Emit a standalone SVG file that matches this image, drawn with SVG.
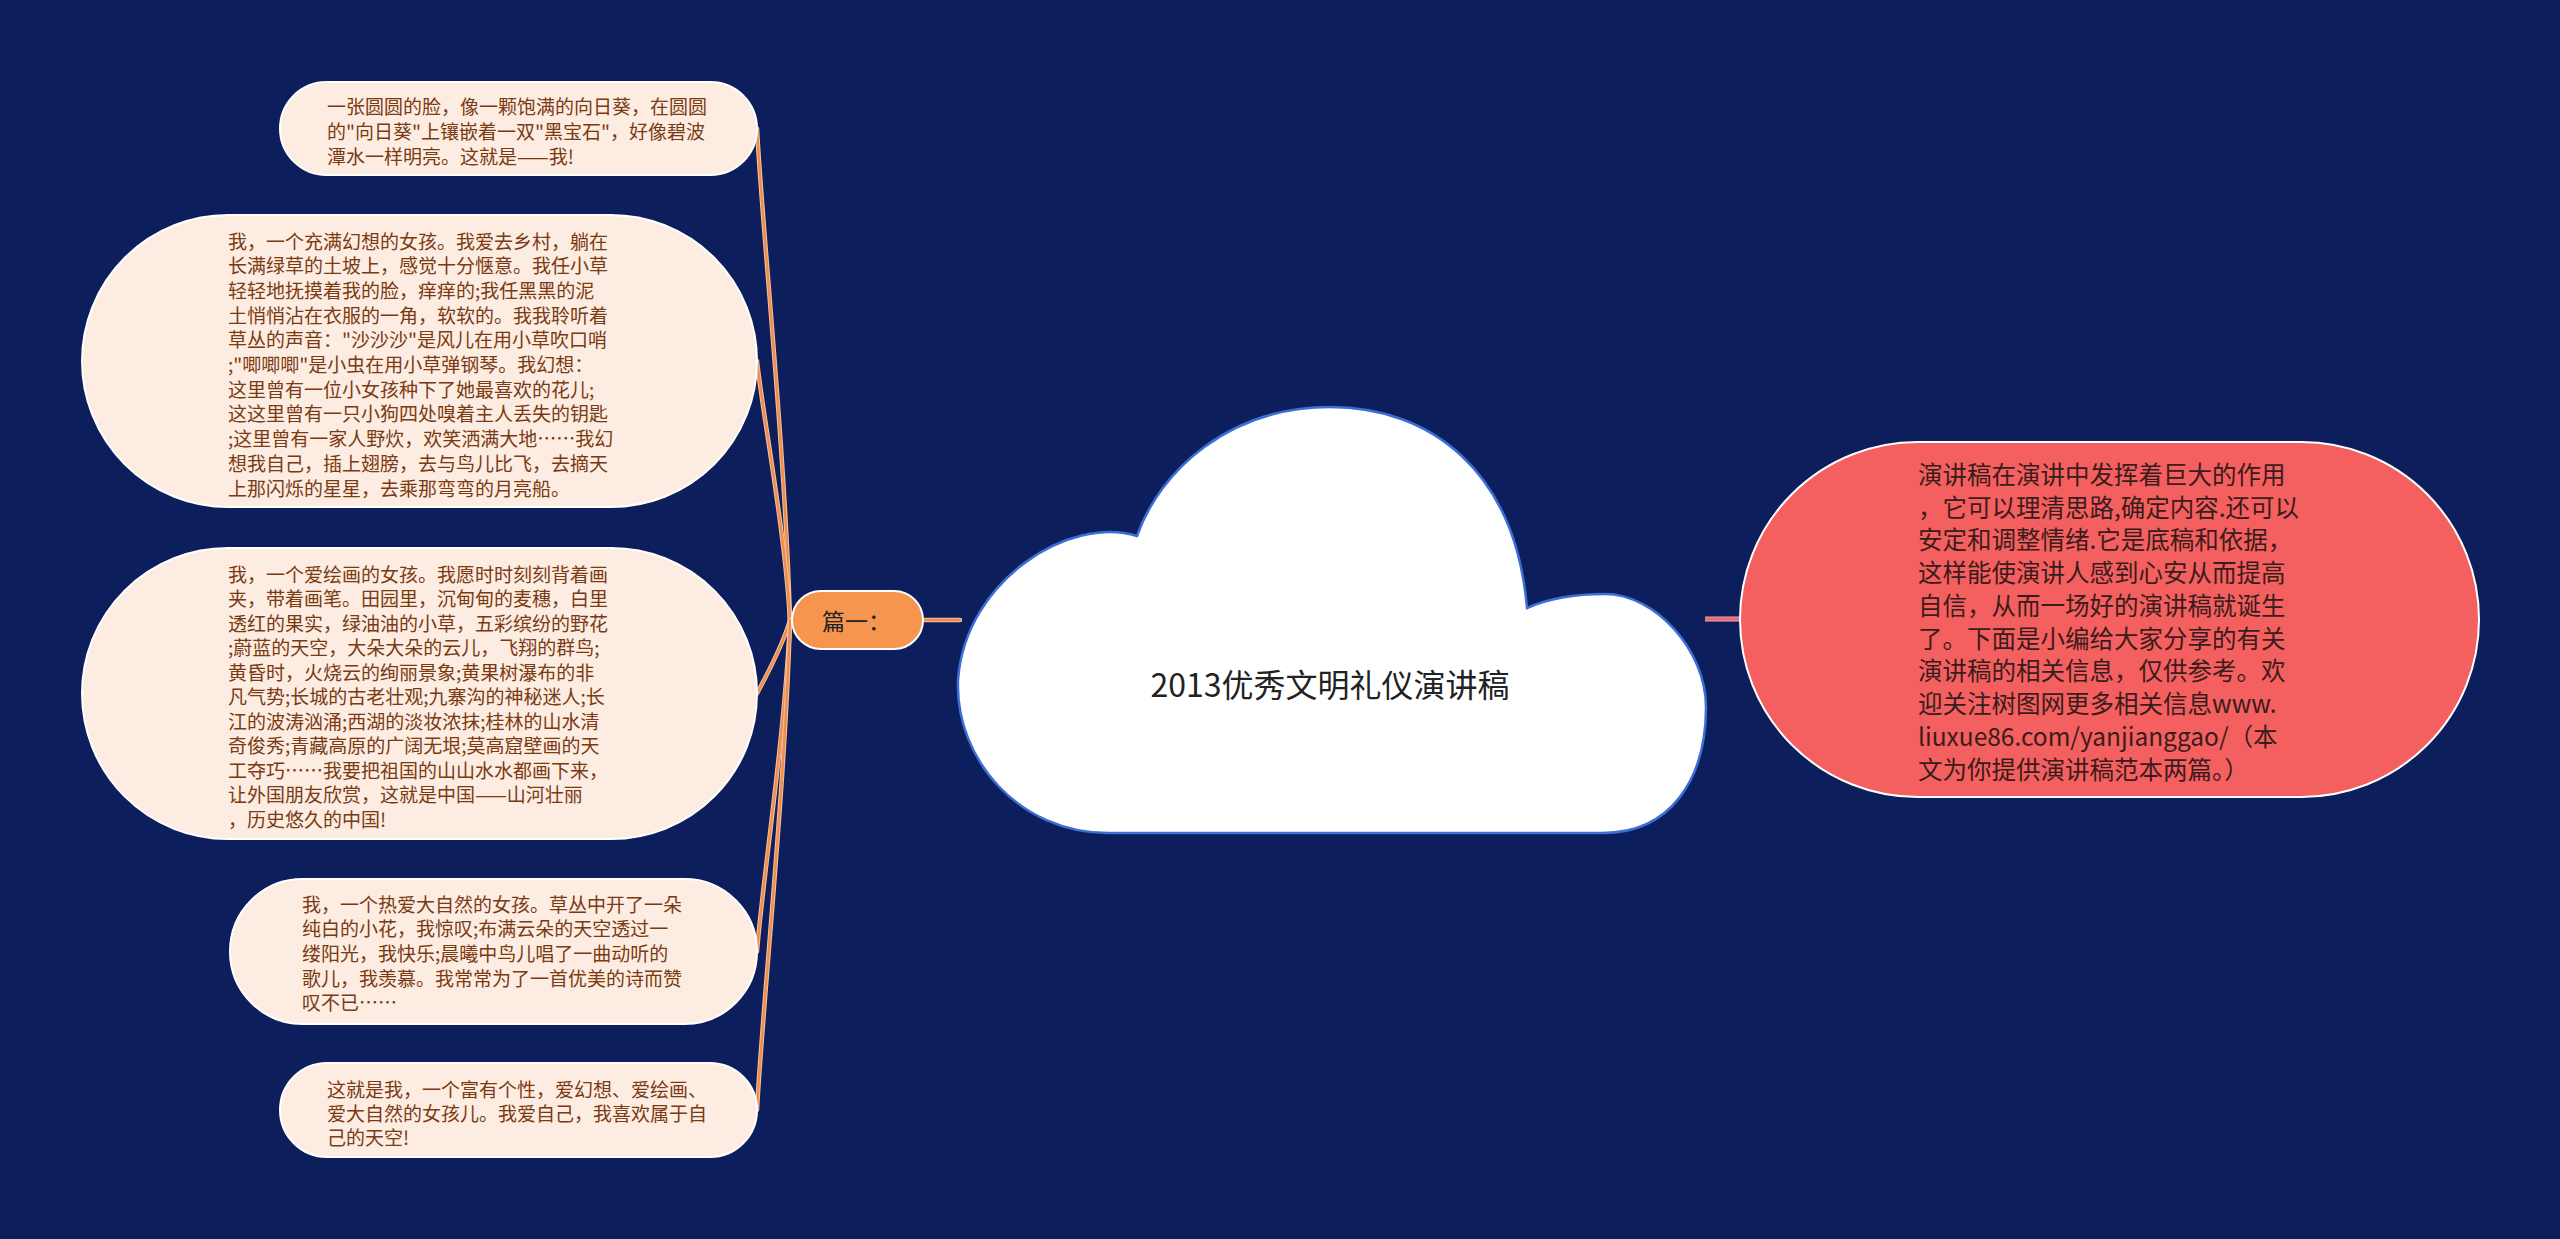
<svg xmlns="http://www.w3.org/2000/svg" width="2560" height="1239" viewBox="0 0 2560 1239">
<style>
.bg{fill:#0c1e5b}
.leaf{fill:#fdece1;stroke:#ffffff;stroke-width:2}
.lt{font-family:"Noto Sans CJK SC","Noto Sans",sans-serif;font-size:19px;fill:#7a3a12;dominant-baseline:central}
.rt{font-family:"Noto Sans CJK SC","Noto Sans",sans-serif;font-size:24.5px;fill:#3a1c1c;dominant-baseline:central}
.conO{fill:none;stroke:#f7c39d;stroke-width:4.5;stroke-linecap:round}
.conI{fill:none;stroke:#ee8d50;stroke-width:2.5;stroke-linecap:round}
</style>
<rect class="bg" x="0" y="0" width="2560" height="1239"/>
<g id="connectors">
<path class="conO" d="M790 620 C785 448 762 226 757 128.5"/>
<path class="conI" d="M790 620 C785 448 762 226 757 128.5"/>
<path class="conO" d="M790 620 C785 530 762 410 757 361"/>
<path class="conI" d="M790 620 C785 530 762 410 757 361"/>
<path class="conO" d="M790 620 C782 648 764 680 757 693.5"/>
<path class="conI" d="M790 620 C782 648 764 680 757 693.5"/>
<path class="conO" d="M790 620 C785 735 762 885 757 951.5"/>
<path class="conI" d="M790 620 C785 735 762 885 757 951.5"/>
<path class="conO" d="M790 620 C785 790 762 1012 757 1110"/>
<path class="conI" d="M790 620 C785 790 762 1012 757 1110"/>
<line class="conO" x1="923" y1="620" x2="960" y2="620"/>
<line class="conI" x1="923" y1="620" x2="960" y2="620"/>
<line x1="1705" y1="619" x2="1741" y2="619" stroke="#f6a3a8" stroke-width="5"/>
<line x1="1705" y1="619" x2="1741" y2="619" stroke="#e4697a" stroke-width="3"/>
</g>
<g id="root">
<path d="M1108 833 L1603 833 C1670 833 1706 780 1706 707 C1706 650 1655 594 1605 594 C1570 594 1545 600 1527 608 C1515 470 1430 407 1330 407 C1230 407 1160 470 1137 536 C1070 515 965 580 958 680 C955 760 1020 833 1108 833 Z" fill="#ffffff" stroke="#3b6fd6" stroke-width="2.5"/>
<text x="1330" y="683" text-anchor="middle" dominant-baseline="central" font-family="'Noto Sans CJK SC','Noto Sans',sans-serif" font-size="32" fill="#222222">2013优秀文明礼仪演讲稿</text>
</g>
<g id="intro">
<rect x="1740" y="442" width="739" height="355" rx="177.5" fill="#f45f5f" stroke="#ffffff" stroke-width="2"/>
<text class="rt" x="1918" y="473">演讲稿在演讲中发挥着巨大的作用</text>
<text class="rt" x="1918" y="506">，它可以理清思路,确定内容.还可以</text>
<text class="rt" x="1918" y="538">安定和调整情绪.它是底稿和依据，</text>
<text class="rt" x="1918" y="571">这样能使演讲人感到心安从而提高</text>
<text class="rt" x="1918" y="604">自信，从而一场好的演讲稿就诞生</text>
<text class="rt" x="1918" y="637">了。下面是小编给大家分享的有关</text>
<text class="rt" x="1918" y="669">演讲稿的相关信息，仅供参考。欢</text>
<text class="rt" x="1918" y="702">迎关注树图网更多相关信息www.</text>
<text class="rt" x="1918" y="735">liuxue86.com/yanjianggao/（本</text>
<text class="rt" x="1918" y="768">文为你提供演讲稿范本两篇。）</text>
</g>
<g id="part1">
<rect x="792" y="591" width="131" height="58" rx="29" fill="#f5954f" stroke="#ffffff" stroke-width="2"/>
<text x="822" y="620" dominant-baseline="central" font-family="'Noto Sans CJK SC','Noto Sans',sans-serif" font-size="23" fill="#222222">篇一：</text>
</g>
<g id="leaf1">
<rect class="leaf" x="280" y="82" width="477" height="93" rx="46.5"/>
<text class="lt" x="327" y="105">一张圆圆的脸，像一颗饱满的向日葵，在圆圆</text>
<text class="lt" x="327" y="130">的"向日葵"上镶嵌着一双"黑宝石"，好像碧波</text>
<text class="lt" x="327" y="155">潭水一样明亮。这就是——我!</text>
</g>
<g id="leaf2">
<rect class="leaf" x="82" y="215" width="675" height="292" rx="146"/>
<text class="lt" x="228" y="240">我，一个充满幻想的女孩。我爱去乡村，躺在</text>
<text class="lt" x="228" y="264.7">长满绿草的土坡上，感觉十分惬意。我任小草</text>
<text class="lt" x="228" y="289.4">轻轻地抚摸着我的脸，痒痒的;我任黑黑的泥</text>
<text class="lt" x="228" y="314.1">土悄悄沾在衣服的一角，软软的。我我聆听着</text>
<text class="lt" x="228" y="338.8">草丛的声音："沙沙沙"是风儿在用小草吹口哨</text>
<text class="lt" x="228" y="363.5">;"唧唧唧"是小虫在用小草弹钢琴。我幻想：</text>
<text class="lt" x="228" y="388.2">这里曾有一位小女孩种下了她最喜欢的花儿;</text>
<text class="lt" x="228" y="412.9">这这里曾有一只小狗四处嗅着主人丢失的钥匙</text>
<text class="lt" x="228" y="437.6">;这里曾有一家人野炊，欢笑洒满大地……我幻</text>
<text class="lt" x="228" y="462.3">想我自己，插上翅膀，去与鸟儿比飞，去摘天</text>
<text class="lt" x="228" y="487">上那闪烁的星星，去乘那弯弯的月亮船。</text>
</g>
<g id="leaf3">
<rect class="leaf" x="82" y="548" width="675" height="291" rx="145.5"/>
<text class="lt" x="228" y="573">我，一个爱绘画的女孩。我愿时时刻刻背着画</text>
<text class="lt" x="228" y="597.5">夹，带着画笔。田园里，沉甸甸的麦穗，白里</text>
<text class="lt" x="228" y="622">透红的果实，绿油油的小草，五彩缤纷的野花</text>
<text class="lt" x="228" y="646.5">;蔚蓝的天空，大朵大朵的云儿，飞翔的群鸟;</text>
<text class="lt" x="228" y="671">黄昏时，火烧云的绚丽景象;黄果树瀑布的非</text>
<text class="lt" x="228" y="695.5">凡气势;长城的古老壮观;九寨沟的神秘迷人;长</text>
<text class="lt" x="228" y="720">江的波涛汹涌;西湖的淡妆浓抹;桂林的山水清</text>
<text class="lt" x="228" y="744.5">奇俊秀;青藏高原的广阔无垠;莫高窟壁画的天</text>
<text class="lt" x="228" y="769">工夺巧……我要把祖国的山山水水都画下来，</text>
<text class="lt" x="228" y="793.5">让外国朋友欣赏，这就是中国——山河壮丽</text>
<text class="lt" x="228" y="818">，历史悠久的中国!</text>
</g>
<g id="leaf4">
<rect class="leaf" x="230" y="879" width="527" height="145" rx="72.5"/>
<text class="lt" x="302" y="903">我，一个热爱大自然的女孩。草丛中开了一朵</text>
<text class="lt" x="302" y="927.7">纯白的小花，我惊叹;布满云朵的天空透过一</text>
<text class="lt" x="302" y="952.4">缕阳光，我快乐;晨曦中鸟儿唱了一曲动听的</text>
<text class="lt" x="302" y="977.1">歌儿，我羡慕。我常常为了一首优美的诗而赞</text>
<text class="lt" x="302" y="1001.8">叹不已……</text>
</g>
<g id="leaf5">
<rect class="leaf" x="280" y="1063" width="477" height="94" rx="47"/>
<text class="lt" x="327" y="1088">这就是我，一个富有个性，爱幻想、爱绘画、</text>
<text class="lt" x="327" y="1112">爱大自然的女孩儿。我爱自己，我喜欢属于自</text>
<text class="lt" x="327" y="1136">己的天空!</text>
</g>
</svg>
